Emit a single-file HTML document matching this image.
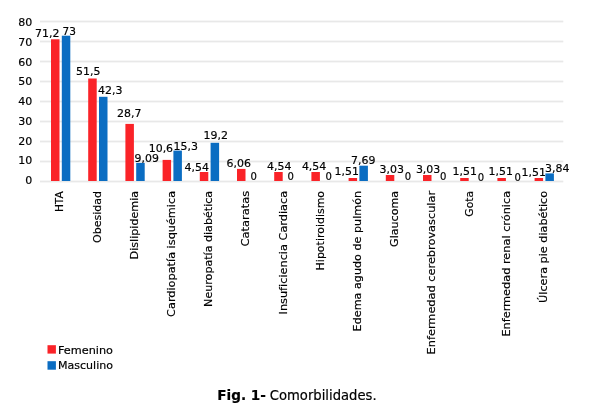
<!DOCTYPE html>
<html lang="es"><head><meta charset="utf-8"><title>Fig. 1- Comorbilidades</title>
<style>html,body{margin:0;padding:0;background:#fff}body{width:600px;height:411px;overflow:hidden}svg{display:block}text{font-family:"DejaVu Sans","Liberation Sans",sans-serif;fill:#000;stroke:#000;stroke-width:0.18px}</style></head><body>
<svg width="600" height="411" viewBox="0 0 600 411">
<rect width="600" height="411" fill="#fff"/>
<rect x="40" y="180.6" width="523.3" height="1.8" fill="#e8e8e8"/>
<rect x="40" y="160.6" width="523.3" height="1.8" fill="#e8e8e8"/>
<rect x="40" y="140.6" width="523.3" height="1.8" fill="#e8e8e8"/>
<rect x="40" y="120.6" width="523.3" height="1.8" fill="#e8e8e8"/>
<rect x="40" y="100.6" width="523.3" height="1.8" fill="#e8e8e8"/>
<rect x="40" y="80.6" width="523.3" height="1.8" fill="#e8e8e8"/>
<rect x="40" y="60.6" width="523.3" height="1.8" fill="#e8e8e8"/>
<rect x="40" y="40.6" width="523.3" height="1.8" fill="#e8e8e8"/>
<rect x="40" y="20.6" width="523.3" height="1.8" fill="#e8e8e8"/>
<text x="32.2" y="184.0" font-size="11" text-anchor="end">0</text>
<text x="32.2" y="164.3" font-size="11" text-anchor="end">10</text>
<text x="32.2" y="144.5" font-size="11" text-anchor="end">20</text>
<text x="32.2" y="124.8" font-size="11" text-anchor="end">30</text>
<text x="32.2" y="105.0" font-size="11" text-anchor="end">40</text>
<text x="32.2" y="85.3" font-size="11" text-anchor="end">50</text>
<text x="32.2" y="65.6" font-size="11" text-anchor="end">60</text>
<text x="32.2" y="45.8" font-size="11" text-anchor="end">70</text>
<text x="32.2" y="26.1" font-size="11" text-anchor="end">80</text>
<rect x="51.0" y="39.3" width="8.5" height="141.7" fill="#fa2328"/>
<rect x="61.8" y="35.7" width="8.5" height="145.3" fill="#0b6dc2"/>
<rect x="88.2" y="78.5" width="8.5" height="102.5" fill="#fa2328"/>
<rect x="99.0" y="96.8" width="8.5" height="84.2" fill="#0b6dc2"/>
<rect x="125.4" y="123.9" width="8.5" height="57.1" fill="#fa2328"/>
<rect x="136.2" y="162.9" width="8.5" height="18.1" fill="#0b6dc2"/>
<rect x="162.6" y="159.9" width="8.5" height="21.1" fill="#fa2328"/>
<rect x="173.4" y="150.6" width="8.5" height="30.4" fill="#0b6dc2"/>
<rect x="199.8" y="172.0" width="8.5" height="9.0" fill="#fa2328"/>
<rect x="210.6" y="142.8" width="8.5" height="38.2" fill="#0b6dc2"/>
<rect x="237.0" y="168.9" width="8.5" height="12.1" fill="#fa2328"/>
<rect x="274.2" y="172.0" width="8.5" height="9.0" fill="#fa2328"/>
<rect x="311.4" y="172.0" width="8.5" height="9.0" fill="#fa2328"/>
<rect x="348.6" y="178.0" width="8.5" height="3.0" fill="#fa2328"/>
<rect x="359.4" y="165.7" width="8.5" height="15.3" fill="#0b6dc2"/>
<rect x="385.8" y="175.0" width="8.5" height="6.0" fill="#fa2328"/>
<rect x="423.0" y="175.0" width="8.5" height="6.0" fill="#fa2328"/>
<rect x="460.2" y="178.0" width="8.5" height="3.0" fill="#fa2328"/>
<rect x="497.4" y="178.0" width="8.5" height="3.0" fill="#fa2328"/>
<rect x="534.6" y="178.0" width="8.5" height="3.0" fill="#fa2328"/>
<rect x="545.4" y="173.4" width="8.5" height="7.6" fill="#0b6dc2"/>
<text x="35.0" y="37.0" font-size="11" textLength="24.4" lengthAdjust="spacingAndGlyphs">71,2</text>
<text x="62.5" y="34.5" font-size="11" textLength="13.4" lengthAdjust="spacingAndGlyphs">73</text>
<text x="76.0" y="74.5" font-size="11" textLength="24.4" lengthAdjust="spacingAndGlyphs">51,5</text>
<text x="98.0" y="93.5" font-size="11" textLength="24.4" lengthAdjust="spacingAndGlyphs">42,3</text>
<text x="117.0" y="117.0" font-size="11" textLength="24.4" lengthAdjust="spacingAndGlyphs">28,7</text>
<text x="134.5" y="161.7" font-size="11" textLength="24.4" lengthAdjust="spacingAndGlyphs">9,09</text>
<text x="148.7" y="151.7" font-size="11" textLength="24.4" lengthAdjust="spacingAndGlyphs">10,6</text>
<text x="173.5" y="150.0" font-size="11" textLength="24.4" lengthAdjust="spacingAndGlyphs">15,3</text>
<text x="184.5" y="170.8" font-size="11" textLength="24.4" lengthAdjust="spacingAndGlyphs">4,54</text>
<text x="203.5" y="139.0" font-size="11" textLength="24.4" lengthAdjust="spacingAndGlyphs">19,2</text>
<text x="226.5" y="166.7" font-size="11" textLength="24.4" lengthAdjust="spacingAndGlyphs">6,06</text>
<text x="250.5" y="180.0" font-size="11" textLength="6.4" lengthAdjust="spacingAndGlyphs">0</text>
<text x="267.1" y="170.0" font-size="11" textLength="24.4" lengthAdjust="spacingAndGlyphs">4,54</text>
<text x="287.5" y="180.0" font-size="11" textLength="6.4" lengthAdjust="spacingAndGlyphs">0</text>
<text x="301.9" y="170.0" font-size="11" textLength="24.4" lengthAdjust="spacingAndGlyphs">4,54</text>
<text x="325.4" y="180.0" font-size="11" textLength="6.4" lengthAdjust="spacingAndGlyphs">0</text>
<text x="334.5" y="175.3" font-size="11" textLength="24.4" lengthAdjust="spacingAndGlyphs">1,51</text>
<text x="351.1" y="163.7" font-size="11" textLength="24.4" lengthAdjust="spacingAndGlyphs">7,69</text>
<text x="379.5" y="173.0" font-size="11" textLength="24.4" lengthAdjust="spacingAndGlyphs">3,03</text>
<text x="404.7" y="179.9" font-size="11" textLength="6.4" lengthAdjust="spacingAndGlyphs">0</text>
<text x="415.9" y="173.0" font-size="11" textLength="24.4" lengthAdjust="spacingAndGlyphs">3,03</text>
<text x="440.1" y="179.9" font-size="11" textLength="6.4" lengthAdjust="spacingAndGlyphs">0</text>
<text x="452.5" y="175.0" font-size="11" textLength="24.4" lengthAdjust="spacingAndGlyphs">1,51</text>
<text x="477.8" y="180.6" font-size="11" textLength="6.4" lengthAdjust="spacingAndGlyphs">0</text>
<text x="488.5" y="175.0" font-size="11" textLength="24.4" lengthAdjust="spacingAndGlyphs">1,51</text>
<text x="514.5" y="180.6" font-size="11" textLength="6.4" lengthAdjust="spacingAndGlyphs">0</text>
<text x="521.5" y="176.2" font-size="11" textLength="24.4" lengthAdjust="spacingAndGlyphs">1,51</text>
<text x="545.1" y="172.0" font-size="11" textLength="24.4" lengthAdjust="spacingAndGlyphs">3,84</text>
<text transform="translate(63.4,191.3) rotate(-90)" font-size="11" text-anchor="end" textLength="20.8" lengthAdjust="spacingAndGlyphs">HTA</text>
<text transform="translate(100.6,190.9) rotate(-90)" font-size="11" text-anchor="end" textLength="52.0" lengthAdjust="spacingAndGlyphs">Obesidad</text>
<text transform="translate(137.8,190.9) rotate(-90)" font-size="11" text-anchor="end" textLength="68.5" lengthAdjust="spacingAndGlyphs">Dislipidemia</text>
<text transform="translate(175.0,190.9) rotate(-90)" font-size="11" text-anchor="end" textLength="126.0" lengthAdjust="spacingAndGlyphs">Cardiopatía isquémica</text>
<text transform="translate(212.2,190.9) rotate(-90)" font-size="11" text-anchor="end" textLength="116.0" lengthAdjust="spacingAndGlyphs">Neuropatía diabética</text>
<text transform="translate(249.4,190.9) rotate(-90)" font-size="11" text-anchor="end" textLength="55.5" lengthAdjust="spacingAndGlyphs">Cataratas</text>
<text transform="translate(286.6,190.9) rotate(-90)" font-size="11" text-anchor="end" textLength="123.5" lengthAdjust="spacingAndGlyphs">Insuficiencia Cardiaca</text>
<text transform="translate(323.8,190.9) rotate(-90)" font-size="11" text-anchor="end" textLength="79.5" lengthAdjust="spacingAndGlyphs">Hipotiroidismo</text>
<text transform="translate(361.0,190.9) rotate(-90)" font-size="11" text-anchor="end" textLength="140.5" lengthAdjust="spacingAndGlyphs">Edema agudo de pulmón</text>
<text transform="translate(398.2,190.9) rotate(-90)" font-size="11" text-anchor="end" textLength="56.0" lengthAdjust="spacingAndGlyphs">Glaucoma</text>
<text transform="translate(435.4,190.9) rotate(-90)" font-size="11" text-anchor="end" textLength="163.5" lengthAdjust="spacingAndGlyphs">Enfermedad cerebrovascular</text>
<text transform="translate(472.6,190.9) rotate(-90)" font-size="11" text-anchor="end" textLength="25.8" lengthAdjust="spacingAndGlyphs">Gota</text>
<text transform="translate(509.8,190.9) rotate(-90)" font-size="11" text-anchor="end" textLength="145.7" lengthAdjust="spacingAndGlyphs">Enfermedad renal crónica</text>
<text transform="translate(547.0,190.9) rotate(-90)" font-size="11" text-anchor="end" textLength="112.0" lengthAdjust="spacingAndGlyphs">Úlcera pie diabético</text>
<rect x="47.5" y="345.2" width="8.4" height="8.4" fill="#fa2328"/>
<rect x="47.5" y="361.2" width="8.4" height="8.5" fill="#0b6dc2"/>
<text x="58.0" y="354.0" font-size="11" textLength="55.0" lengthAdjust="spacingAndGlyphs">Femenino</text>
<text x="58.0" y="369.1" font-size="11" textLength="55.0" lengthAdjust="spacingAndGlyphs">Masculino</text>
<text x="217.3" y="400" font-size="13.5" font-weight="bold" textLength="48.6" lengthAdjust="spacingAndGlyphs">Fig. 1-</text>
<text x="269.8" y="400" font-size="13.5" textLength="106.8" lengthAdjust="spacingAndGlyphs">Comorbilidades.</text>
</svg></body></html>
